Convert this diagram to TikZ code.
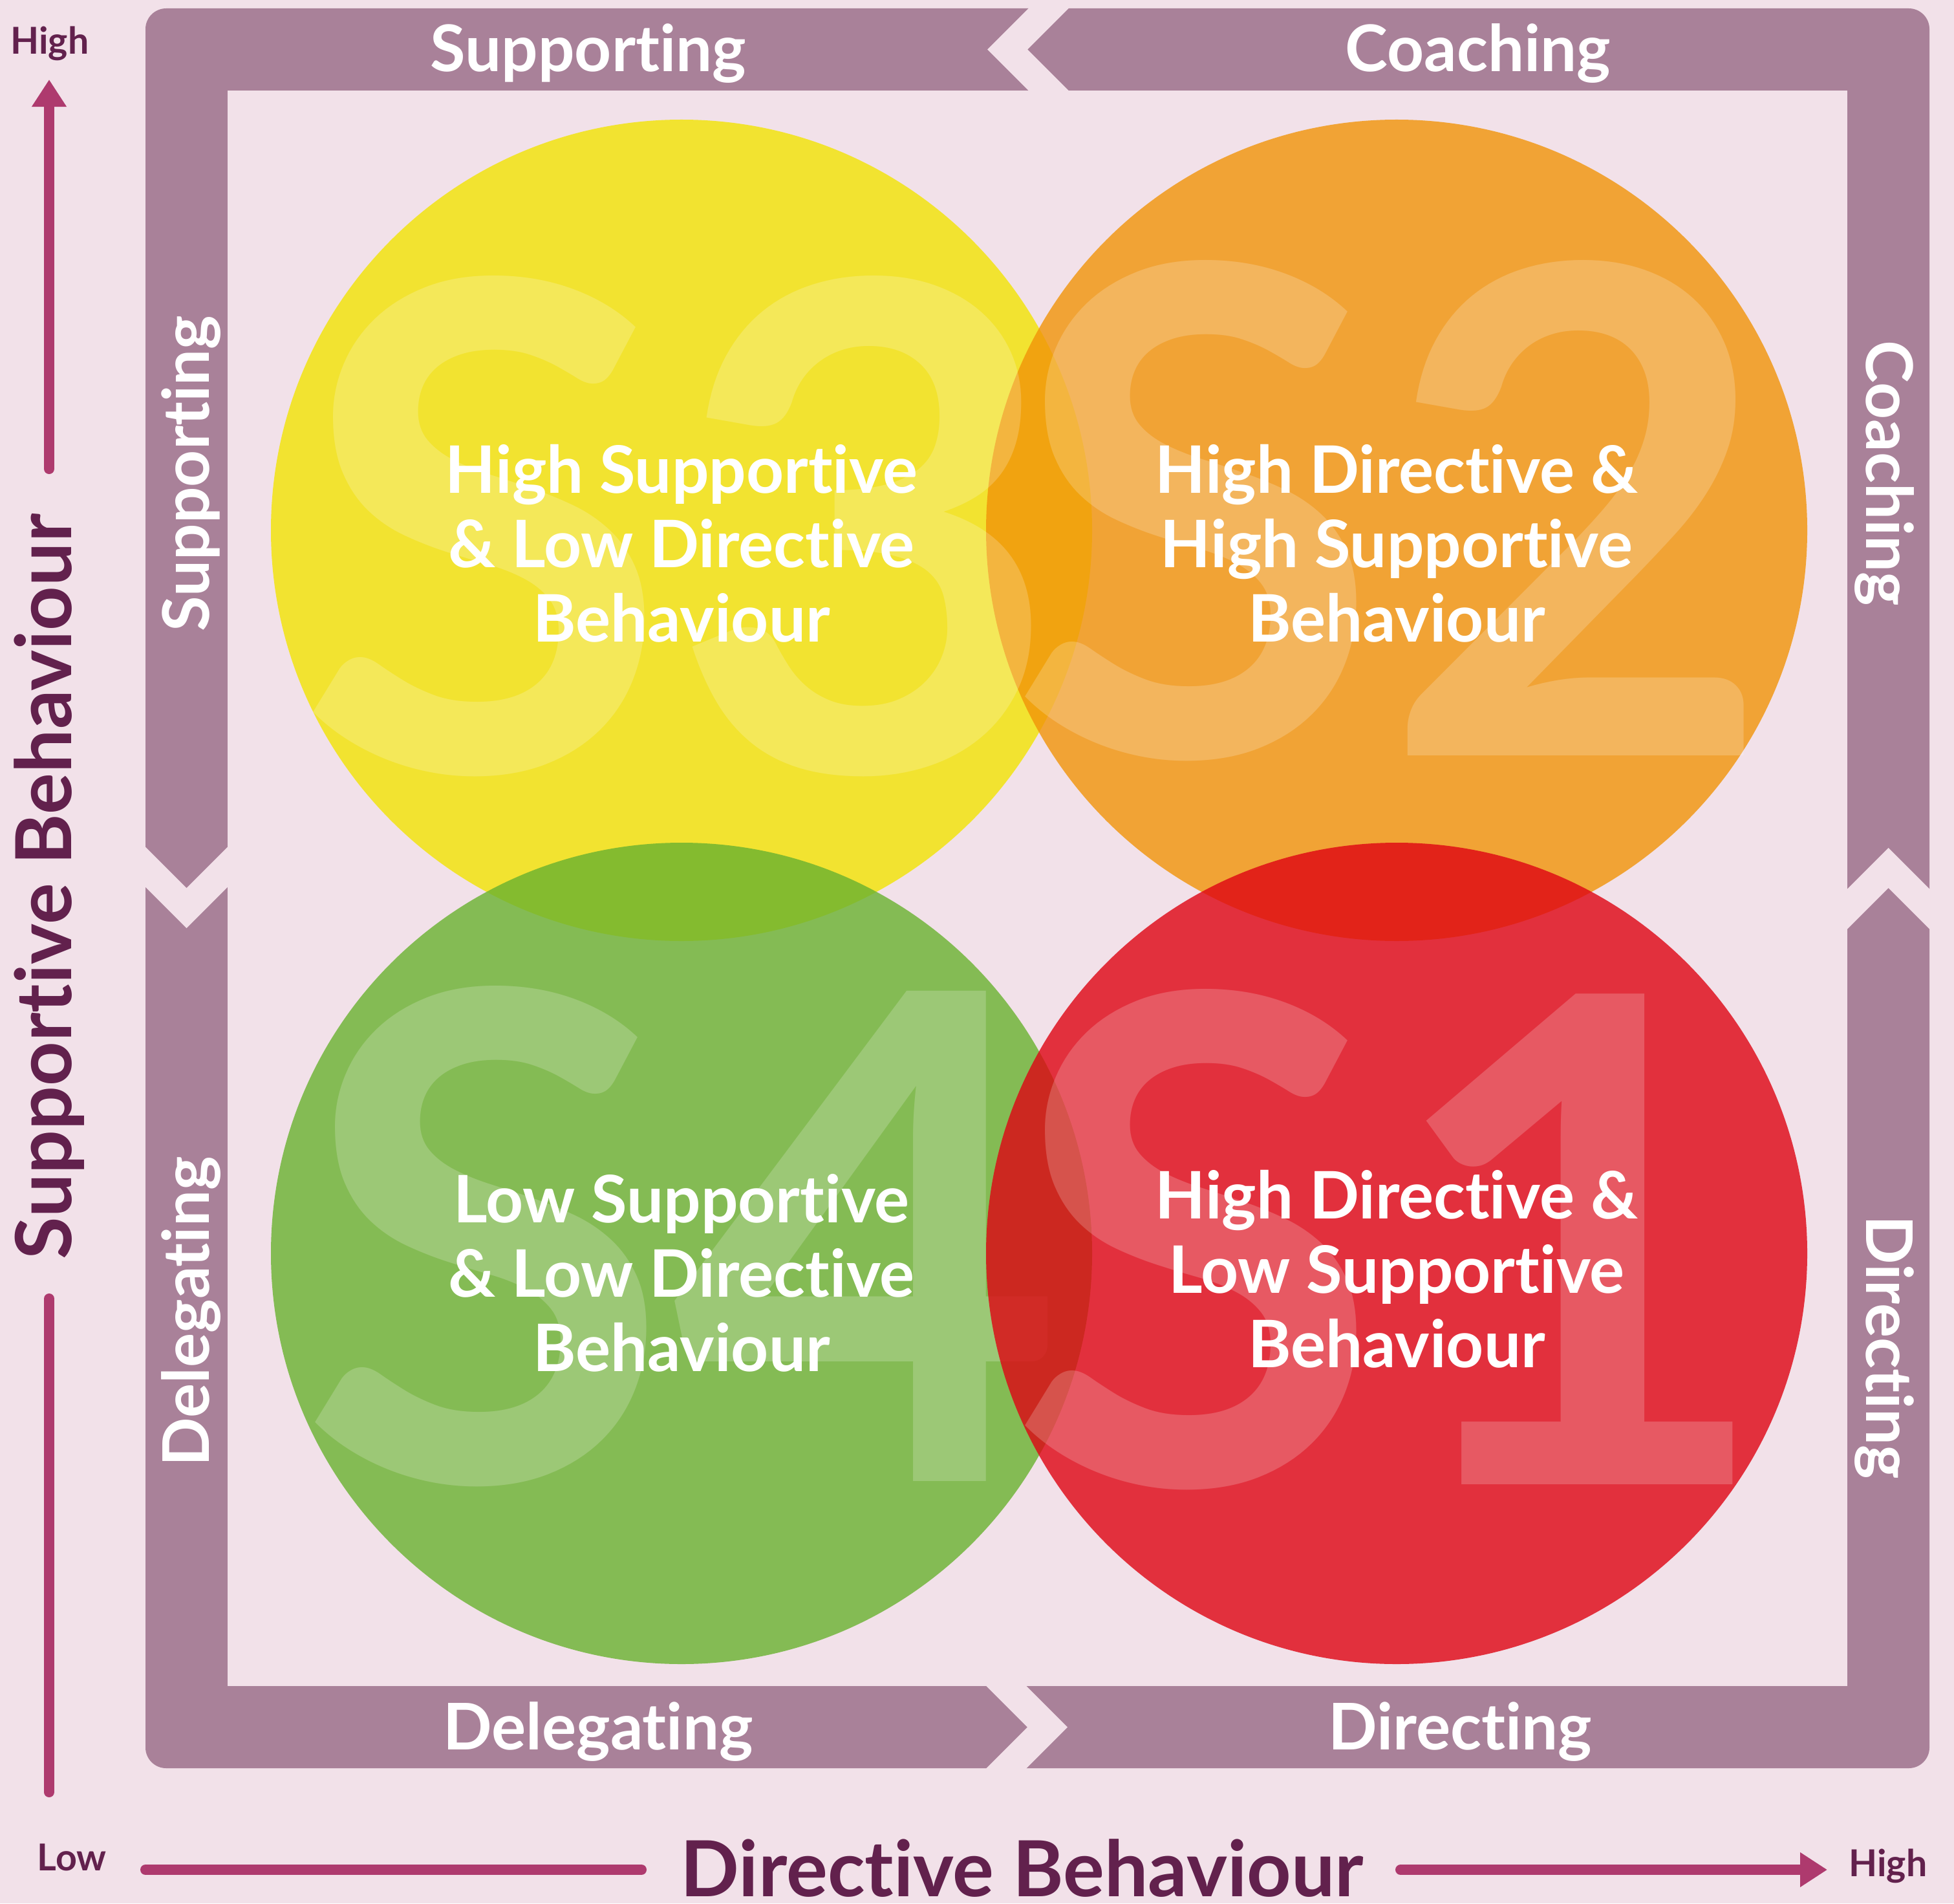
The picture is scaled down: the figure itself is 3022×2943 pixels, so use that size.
\documentclass[tikz,border=0pt]{standalone}
\usepackage{fontspec}
\setmainfont{Lato}[Ligatures=NoCommon]
\usepackage{tikz}
\usetikzlibrary{arrows.meta}

\definecolor{bgpink}{HTML}{F2E1E9}
\definecolor{framepurple}{HTML}{A98199}
\definecolor{darkplum}{HTML}{62214D}
\definecolor{axispink}{HTML}{AE3A6E}
\definecolor{discyellow}{HTML}{F2E402}
\definecolor{discorange}{HTML}{F19408}
\definecolor{discgreen}{HTML}{69B22F}
\definecolor{discred}{HTML}{DF0413}

\begin{document}
\begin{tikzpicture}[x=0.01cm,y=-0.01cm,
	disc/.style={fill opacity=0.8},
	bigletter/.style={text=white,text opacity=0.2,inner sep=0,anchor=base,font=\fontsize{298}{298}\selectfont\bfseries},
	blurb/.style={text=white,align=center,inner sep=0,anchor=base,font=\fontsize{28.8}{32.7}\selectfont\bfseries},
	bandlabel/.style={text=white,inner sep=0,anchor=base,font=\fontsize{28.3}{32}\selectfont\bfseries},
	axistitle/.style={text=darkplum,inner sep=0,anchor=base,font=\fontsize{34}{40}\selectfont\bfseries},
	axisend/.style={text=darkplum,inner sep=0,anchor=base,font=\fontsize{16.3}{19}\selectfont\bfseries},
	axisline/.style={line width=1.6mm,color=axispink,line cap=round},
	axistip/.style={-{Triangle[length=4.2mm,width=5.1mm]}}]

	\fill[bgpink] (0,0) rectangle (3022,2943);
	\useasboundingbox (0,0) rectangle (3022,2943);

	\fill[framepurple,rounded corners=3.2mm] (225,13) rectangle (2984,2734);
	\fill[bgpink] (352,140) rectangle (2857,2607);

	\fill[bgpink] (1653.5,12) -- (1589,76.5) -- (1653.5,141) -- (1591.5,141) -- (1527,76.5) -- (1591.5,12) -- cycle;
	\fill[bgpink] (1524.5,2606) -- (1589,2670.5) -- (1524.5,2735) -- (1586.5,2735) -- (1651,2670.5) -- (1586.5,2606) -- cycle;
	\fill[bgpink] (224,1308.5) -- (288.5,1373) -- (353,1308.5) -- (353,1370.5) -- (288.5,1435) -- (224,1370.5) -- cycle;
	\fill[bgpink] (2856,1437.5) -- (2920.5,1373) -- (2985,1437.5) -- (2985,1375.5) -- (2920.5,1311) -- (2856,1375.5) -- cycle;

	\node (topsup) at (910,111) [bandlabel] {Supporting};
	\node (topcoach) at (2286,111) [bandlabel] {Coaching};
	\node (botdel) at (925,2705) [bandlabel] {Delegating};
	\node (botdir) at (2258,2705) [bandlabel] {Directing};
	\node (leftsup) at (323,732) [bandlabel,rotate=90] {Supporting};
	\node (leftdel) at (323,2028) [bandlabel,rotate=90] {Delegating};
	\node (rightcoach) at (2886,732) [bandlabel,rotate=-90] {Coaching};
	\node (rightdir) at (2886,2083) [bandlabel,rotate=-90] {Directing};

	\fill[discyellow,disc] (1054,820) circle (635);
	\fill[discorange,disc] (2160,820) circle (635);
	\node (bigS3) at (1052,1192) [bigletter] {S3};
	\node (bigS2) at (2153,1168) [bigletter] {S2};
	\fill[discgreen,disc] (1054,1938) circle (635);
	\node (bigS4) at (1055,2290) [bigletter] {S4};
	\fill[discred,disc] (2160,1938) circle (635);
	\node (bigS1) at (2153,2295) [bigletter] {S1};

	\node (txtS3) at (1054,992) [blurb] {High Supportive\\\& Low Directive\\Behaviour};
	\node (txtS2) at (2160,992) [blurb] {High Directive \&\\High Supportive\\Behaviour};
	\node (txtS4) at (1054,2120) [blurb] {Low Supportive\\\& Low Directive\\Behaviour};
	\node (txtS1) at (2160,2114) [blurb] {High Directive \&\\Low Supportive\\Behaviour};

	\node (ytitle) at (110,1371) [axistitle,rotate=90] {Supportive Behaviour};
	\node (xtitle) at (1581,2932) [axistitle] {Directive Behaviour};
	\node (yhigh) at (77,84) [axisend] {High};
	\node (xlow) at (111,2892) [axisend] {Low};
	\node (xhigh) at (2920,2901) [axisend] {High};

	\coordinate (ytip) at (76,123);
	\coordinate (yup) at (76,725);
	\coordinate (ydown) at (76,2008);
	\coordinate (ybottom) at (76,2771);
	\coordinate (xleft) at (225,2891);
	\coordinate (xmidl) at (992,2891);
	\coordinate (xmidr) at (2166,2891);
	\coordinate (xtip) at (2826,2891);

	\draw[axisline,axistip] (yup) -- (ytip);
	\draw[axisline] (ydown) -- (ybottom);
	\draw[axisline] (xleft) -- (xmidl);
	\draw[axisline,axistip] (xmidr) -- (xtip);
\end{tikzpicture}
\end{document}
